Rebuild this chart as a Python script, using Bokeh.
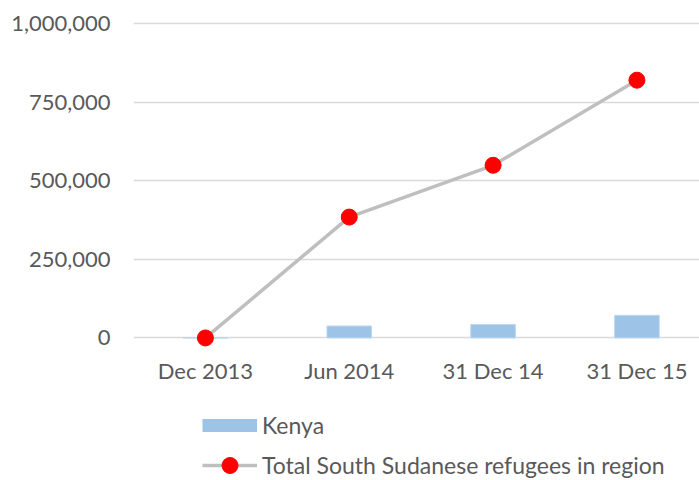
from bokeh.plotting import figure
from bokeh.models import Legend, LegendItem, FixedTicker, NumeralTickFormatter, Range1d
from bokeh.core.properties import value
from bokeh.embed import file_html
from bokeh.resources import INLINE

categories = ["Dec 2013", "Jun 2014", "31 Dec 14", "31 Dec 15"]
kenya = [0, 38000, 43000, 72000]
total = [0, 385000, 550000, 821000]
y_ticks = [0, 250000, 500000, 750000, 1000000]

xs = list(range(len(categories)))

FONT = "Lato"
TXT = "#595959"
BAR = "#9DC3E6"

# frame extends to the bottom so the legend (drawn inside the frame) is not clipped
p = figure(width=699, height=480, output_backend="svg", toolbar_location=None,
           x_range=Range1d(-0.5, 3.435), y_range=Range1d(-454100, 1020700),
           min_border_left=133, min_border_right=0, min_border_top=17,
           min_border_bottom=0)
p.outline_line_color = None
p.xaxis.visible = False
p.xgrid.grid_line_color = None
p.ygrid.grid_line_color = "#D9D9D9"
p.ygrid.grid_line_width = 1.5

bars = p.vbar(x=xs, top=kenya, bottom=0, width=0.31,
              fill_color=BAR, line_color="#BDD7EE", line_width=1)
line = p.line(xs, total, line_color="#BFBFBF", line_width=3.5)
dots = p.ellipse(x=xs, y=total, width=16, height=16, width_units="screen",
                 height_units="screen", fill_color="#FF0000", line_color="#FF0000")
# legend key for the bar series: hidden renderer, shown only as a swatch in the legend
kenya_key = p.line(xs, kenya, line_color=BAR, line_width=13, visible=False)

# category labels below the zero line
p.text(x=xs, y=[-104000] * len(xs), text=categories, text_align="center",
       text_baseline="middle", text_font=value(FONT), text_font_size="22px",
       text_color=TXT)

p.yaxis.ticker = FixedTicker(ticks=y_ticks)
p.yaxis.formatter = NumeralTickFormatter(format="0,0")
p.ygrid.ticker = FixedTicker(ticks=y_ticks)
ax = p.yaxis[0]
ax.axis_line_color = None
ax.major_tick_line_color = None
ax.minor_tick_line_color = None
ax.major_tick_out = 0
ax.major_tick_in = 0
ax.minor_tick_out = 0
ax.major_label_text_font = FONT
ax.major_label_text_font_size = "22px"
ax.major_label_text_color = TXT
ax.major_label_standoff = 23

legend = Legend(items=[LegendItem(label="Kenya", renderers=[kenya_key]),
                       LegendItem(label="Total South Sudanese refugees in region",
                                  renderers=[line, dots])],
                location=(69, 1), glyph_width=55, glyph_height=20, label_height=20,
                label_text_font=FONT, label_text_font_size="23px",
                label_text_color=TXT, border_line_color=None,
                background_fill_alpha=0, padding=0, margin=0, spacing=12,
                label_standoff=5, inactive_fill_alpha=0)
p.add_layout(legend)

open("out.html", "w").write(file_html(p, INLINE))
